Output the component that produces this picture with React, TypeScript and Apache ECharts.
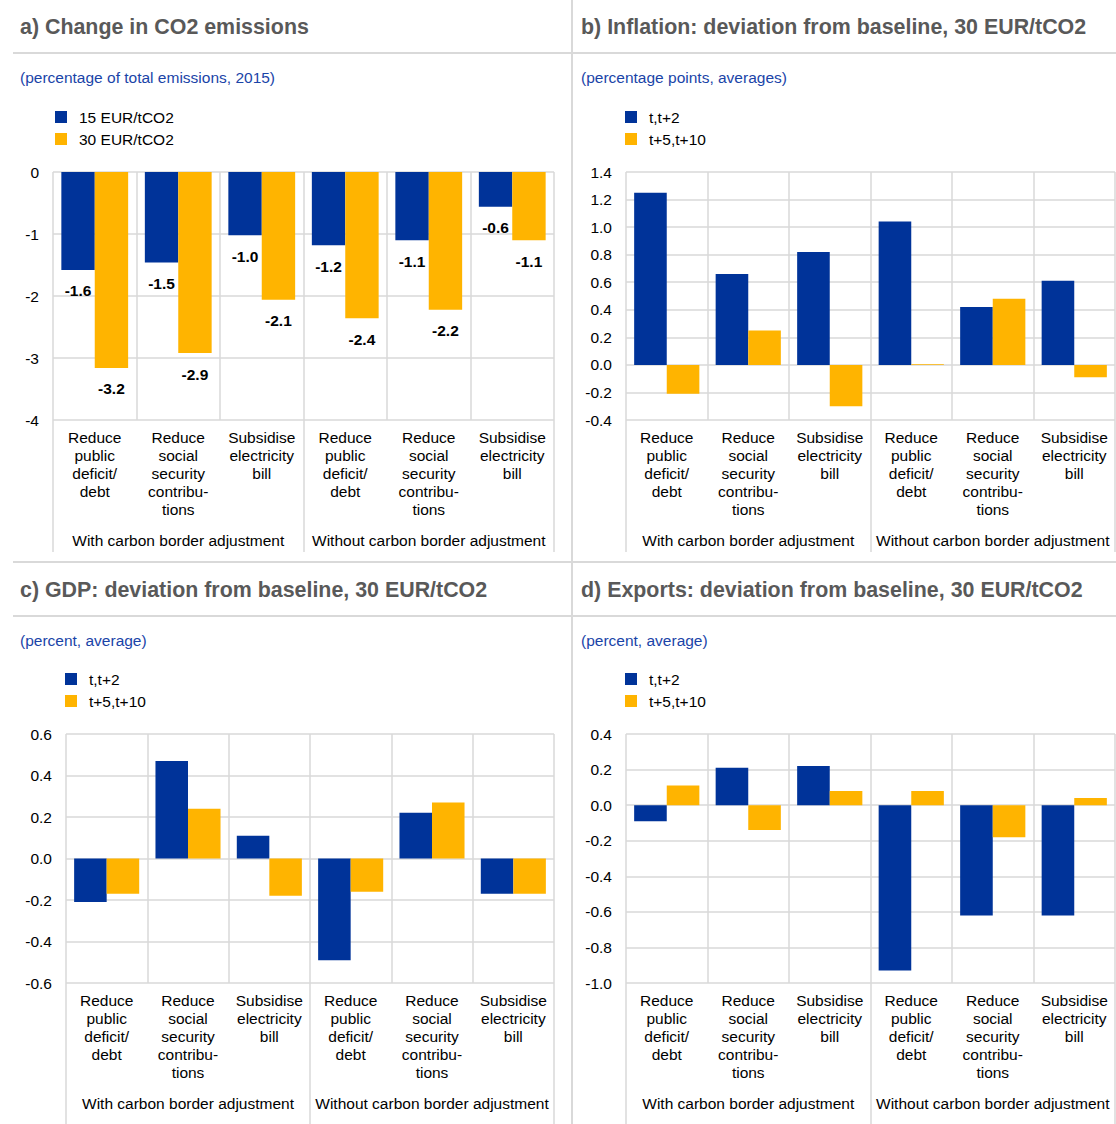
import React, { useEffect, useRef } from 'react';
import * as echarts from 'echarts';

const categories = [
  'Reduce\npublic\ndeficit/\ndebt',
  'Reduce\nsocial\nsecurity\ncontribu-\ntions',
  'Subsidise\nelectricity\nbill',
  'Reduce\npublic\ndeficit/\ndebt',
  'Reduce\nsocial\nsecurity\ncontribu-\ntions',
  'Subsidise\nelectricity\nbill',
];
const groups = ['With carbon border adjustment', 'Without carbon border adjustment'];

const titles = [
  'a) Change in CO2 emissions',
  'b) Inflation: deviation from baseline, 30 EUR/tCO2',
  'c) GDP: deviation from baseline, 30 EUR/tCO2',
  'd) Exports: deviation from baseline, 30 EUR/tCO2',
];
const subtitles = [
  '(percentage of total emissions, 2015)',
  '(percentage points, averages)',
  '(percent, average)',
  '(percent, average)',
];

const legendPrice = ['15 EUR/tCO2', '30 EUR/tCO2'];
const legendHorizon = ['t,t+2', 't+5,t+10'];

// a) CO2 emissions
const co2At15 = [-1.58, -1.46, -1.02, -1.18, -1.1, -0.56];
const co2At30 = [-3.16, -2.92, -2.06, -2.36, -2.22, -1.1];
// b) Inflation
const inflShort = [1.25, 0.66, 0.82, 1.04, 0.42, 0.61];
const inflLong = [-0.21, 0.25, -0.3, 0.005, 0.48, -0.09];
// c) GDP
const gdpShort = [-0.21, 0.47, 0.11, -0.49, 0.22, -0.17];
const gdpLong = [-0.17, 0.24, -0.18, -0.16, 0.27, -0.17];
// d) Exports
const expShort = [-0.09, 0.21, 0.22, -0.93, -0.62, -0.62];
const expLong = [0.11, -0.14, 0.08, 0.08, -0.18, 0.04];

// y-axis ranges [min, max, interval, decimals]
const yAxisA = [-4, 0, 1, 0];
const yAxisB = [-0.4, 1.4, 0.2, 1];
const yAxisC = [-0.6, 0.6, 0.2, 1];
const yAxisD = [-1.0, 0.4, 0.2, 1];

const BLUE = '#003399';
const YELLOW = '#FFB400';
const GRID = '#d9d9d9';
const FONT = '"Liberation Sans", Arial, sans-serif';
const FS = 15.5;

export default function App() {
  const ref = useRef<HTMLDivElement>(null);

  useEffect(() => {
    if (!ref.current) return;
    const chart = echarts.init(ref.current, undefined, { renderer: 'svg' });

    const panels = [
      { grid: { left: 53, top: 172, width: 501, height: 248 }, y: yAxisA, s: [co2At15, co2At30], names: legendPrice, labels: true, legendPos: [55, 109], titlePos: [20, 28], tick: 132 },
      { grid: { left: 626, top: 172, width: 489, height: 248 }, y: yAxisB, s: [inflShort, inflLong], names: legendHorizon, labels: false, legendPos: [625, 109], titlePos: [581, 28], tick: 132 },
      { grid: { left: 66, top: 734, width: 488, height: 249 }, y: yAxisC, s: [gdpShort, gdpLong], names: legendHorizon, labels: false, legendPos: [65, 671], titlePos: [20, 591], tick: 141 },
      { grid: { left: 626, top: 734, width: 489, height: 249 }, y: yAxisD, s: [expShort, expLong], names: legendHorizon, labels: false, legendPos: [625, 671], titlePos: [581, 591], tick: 141 },
    ];

    const grids: any[] = [];
    const xAxes: any[] = [];
    const yAxes: any[] = [];
    const series: any[] = [];
    const legends: any[] = [];
    const graphics: any[] = [];

    panels.forEach((p, i) => {
      grids.push({ ...p.grid, containLabel: false });
      xAxes.push({
        type: 'category',
        gridIndex: i,
        data: categories,
        position: 'bottom',
        axisLine: { show: false },
        axisTick: { show: false },
        splitLine: { show: true, lineStyle: { color: GRID, width: 1.5 } },
        axisLabel: {
          interval: 0,
          margin: 8,
          fontSize: FS,
          lineHeight: 18,
          color: '#000',
          fontFamily: FONT,
          align: 'center',
        },
      });
      xAxes.push({
        type: 'category',
        gridIndex: i,
        data: groups,
        position: 'bottom',
        offset: 0,
        axisLine: { show: false },
        axisTick: { show: true, length: p.tick, lineStyle: { color: GRID, width: 1.5 } },
        splitLine: { show: false },
        axisLabel: { interval: 0, margin: 112, fontSize: FS, color: '#000', fontFamily: FONT },
      });
      const [mn, mx, iv, dec] = p.y;
      yAxes.push({
        type: 'value',
        gridIndex: i,
        min: mn,
        max: mx,
        interval: iv,
        axisLine: { show: false },
        axisTick: { show: false },
        splitLine: { show: true, lineStyle: { color: GRID, width: 1.5 } },
        axisLabel: {
          margin: 14,
          fontSize: FS,
          color: '#000',
          fontFamily: FONT,
          formatter: (v: number) => (dec ? v.toFixed(dec) : String(Math.round(v))),
        },
      });
      p.s.forEach((vals, k) => {
        series.push({
          type: 'bar',
          name: p.names[k],
          xAxisIndex: 2 * i,
          yAxisIndex: i,
          data: vals,
          barGap: '0%',
          barCategoryGap: '20%',
          itemStyle: { color: k === 0 ? BLUE : YELLOW },
          label: p.labels
            ? {
                show: true,
                position: 'bottom',
                distance: 13,
                fontSize: FS,
                fontWeight: 'bold',
                color: '#000',
                fontFamily: FONT,
                formatter: (d: any) => d.value.toFixed(1),
              }
            : { show: false },
        });
      });
      legends.push({
        data: p.names,
        left: p.legendPos[0],
        top: p.legendPos[1],
        padding: 0,
        orient: 'vertical',
        icon: 'rect',
        itemWidth: 12,
        itemHeight: 12,
        itemGap: 6,
        selectedMode: false,
        textStyle: { fontSize: FS, color: '#000', fontFamily: FONT, padding: [0, 0, 0, 7] },
      });
      graphics.push({
        type: 'text',
        left: p.titlePos[0],
        top: p.titlePos[1] - 12,
        style: { text: titles[i], fontSize: 21.4, fontWeight: 'bold', fill: '#595959', fontFamily: FONT },
      });
      graphics.push({
        type: 'text',
        left: p.titlePos[0],
        top: p.titlePos[1] + 41,
        style: { text: subtitles[i], fontSize: FS, fill: '#1a44a8', fontFamily: FONT },
      });
    });

    const sepStyle = { stroke: '#d9d9d9', lineWidth: 2 };
    graphics.push(
      { type: 'line', shape: { x1: 572, y1: 0, x2: 572, y2: 1124 }, style: sepStyle },
      { type: 'line', shape: { x1: 13, y1: 53, x2: 1116, y2: 53 }, style: sepStyle },
      { type: 'line', shape: { x1: 13, y1: 562, x2: 1116, y2: 562 }, style: sepStyle },
      { type: 'line', shape: { x1: 13, y1: 616, x2: 1116, y2: 616 }, style: sepStyle },
    );

    chart.setOption({
      animation: false,
      backgroundColor: '#fff',
      textStyle: { fontFamily: FONT },
      grid: grids,
      xAxis: xAxes,
      yAxis: yAxes,
      series,
      legend: legends,
      graphic: graphics,
    });

    return () => chart.dispose();
  }, []);

  return (
    <div
      ref={ref}
      style={{ position: 'absolute', left: 0, top: 0, width: 1116, height: 1124, background: '#fff' }}
    />
  );
}
